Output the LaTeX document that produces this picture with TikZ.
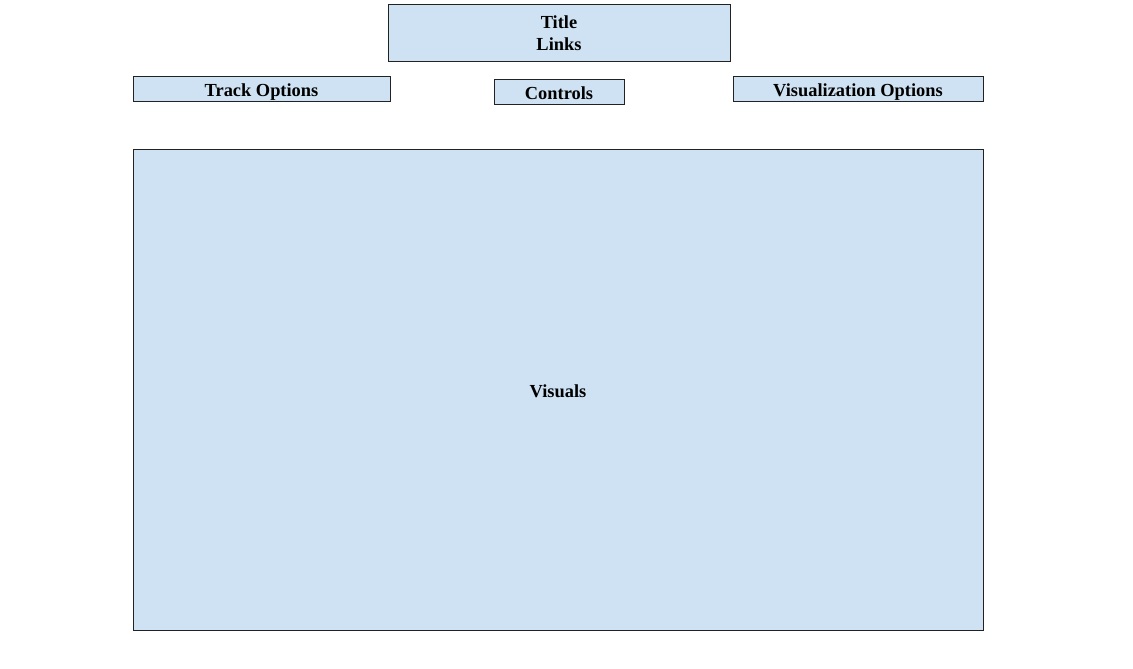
\documentclass[tikz,border=0pt]{standalone}
\usepackage{fontspec}
\setmainfont{Liberation Serif}
\definecolor{boxfill}{HTML}{CFE2F3}
\definecolor{boxline}{HTML}{222222}
\newcommand{\lowered}[1]{\raisebox{-3pt}{#1}}
\begin{document}
\begin{tikzpicture}[x=1pt,y=-1pt,
  panel/.style={draw=boxline,line width=0.8pt,fill=boxfill,inner sep=0pt,
    font=\fontsize{18.4}{22}\selectfont\bfseries},
  onerow/.style={panel,text depth=0pt}]
\useasboundingbox (0,0) rectangle (1133,669);
\node[panel,text height=37pt,text depth=0pt,minimum width=342pt,minimum height=57pt] (title) at (559,32.5) {\begin{tabular}[b]{@{}c@{}}Title\\Links\end{tabular}};
\node[onerow,minimum width=257pt,minimum height=25pt] (track) at (261.5,88.5) {\lowered{Track Options}};
\node[onerow,minimum width=130pt,minimum height=25pt] (controls) at (559,91.5) {\lowered{Controls}};
\node[onerow,minimum width=250pt,minimum height=25pt] (visopt) at (858,88.5) {\lowered{Visualization Options}};
\node[onerow,minimum width=850pt,minimum height=481pt] (visuals) at (558,389.5) {\lowered{Visuals}};
\end{tikzpicture}
\end{document}
